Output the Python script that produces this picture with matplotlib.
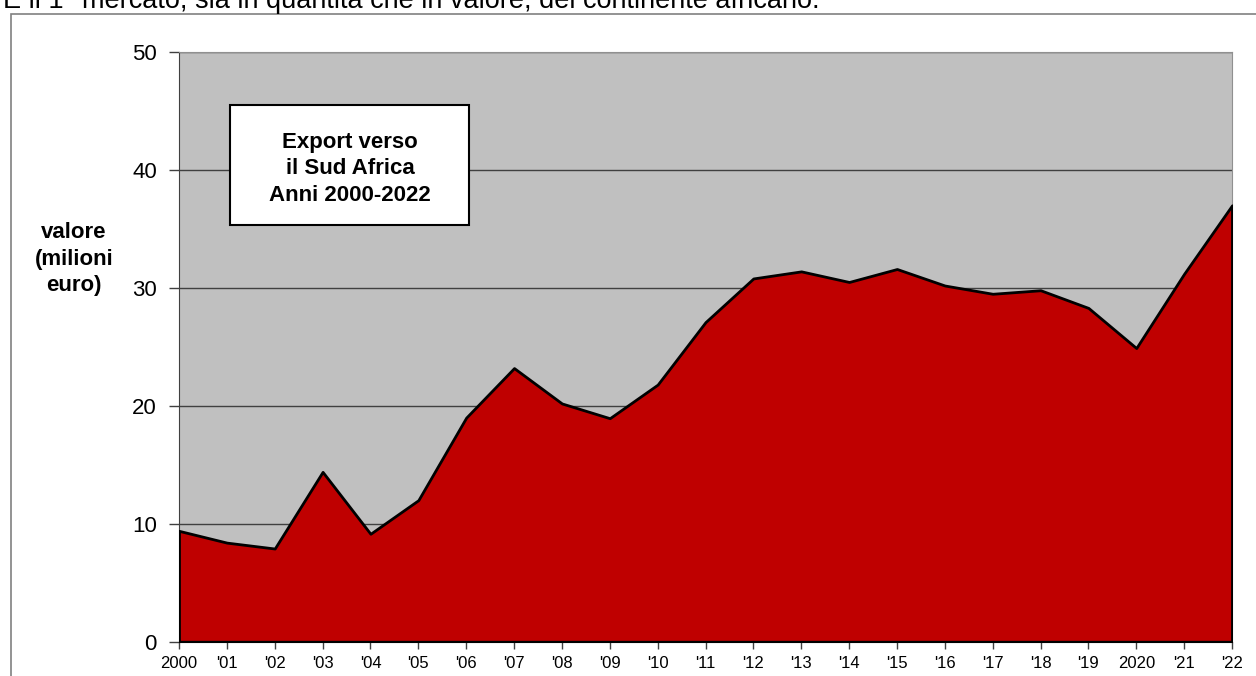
import numpy as np
import matplotlib.pyplot as plt
from matplotlib.patches import Rectangle

# Export verso il Sud Africa, valore in milioni di euro
anni = ["2000", "'01", "'02", "'03", "'04", "'05", "'06", "'07", "'08", "'09",
        "'10", "'11", "'12", "'13", "'14", "'15", "'16", "'17", "'18", "'19",
        "2020", "'21", "'22"]
valori = [9.4, 8.4, 7.9, 14.4, 9.15, 12.0, 19.0, 23.2, 20.2, 18.95,
          21.8, 27.1, 30.8, 31.4, 30.5, 31.6, 30.2, 29.5, 29.8, 28.3,
          24.9, 31.2, 37.0]

plt.rcParams['font.family'] = ['Liberation Sans', 'DejaVu Sans']

W, H = 1256, 676
fig = plt.figure(figsize=(W / 100, H / 100), dpi=100)

# cornice esterna (tagliata a destra e in basso)
fig.patches.append(Rectangle((11 / W, -0.1), 1.2, 1 - 14 / H + 0.1,
                             transform=fig.transFigure, fill=False,
                             edgecolor='#808080', lw=1.2))

# riga di testo tagliata in alto (come nella pagina originale)
fig.text(3 / W, 1 + 1 / H,
         "È il 1° mercato, sia in quantità che in valore, del continente africano.",
         fontsize=19.5, ha='left', va='center')

ax = fig.add_axes([179 / W, 1 - 641.7 / H, (1232 - 179) / W, (641.7 - 52) / H])
x = np.arange(len(anni))
ax.set_facecolor('#C0C0C0')
ax.fill_between(x, valori, 0, facecolor='#BF0000', edgecolor='black',
                lw=2, zorder=3)

ax.set_xlim(0, len(anni) - 1)
ax.set_ylim(0, 50)
ax.set_yticks(range(0, 51, 10))
ax.set_xticks(x)
ax.set_xticklabels(anni)
ax.tick_params(axis='y', labelsize=16, length=7, width=1, color='#404040', pad=9)
ax.tick_params(axis='x', labelsize=12, length=5, width=1, color='#404040', pad=5)
ax.yaxis.grid(True, color='#404040', lw=1)
ax.set_axisbelow(True)

for s in ['top', 'right']:
    ax.spines[s].set_color('#909090')
ax.spines['left'].set_color('#404040')
ax.spines['bottom'].set_color('black')

fig.text(74 / W, 1 - 259 / H, "valore\n(milioni\neuro)", fontsize=16,
         fontweight='bold', ha='center', va='center', linespacing=1.35)

# riquadro con il titolo
fig.patches.append(Rectangle((230 / W, 1 - 225 / H), (469 - 230) / W, 120 / H,
                             transform=fig.transFigure, facecolor='white',
                             edgecolor='black', lw=1.5, zorder=5))
fig.text(350 / W, 1 - 169 / H, "Export verso\nil Sud Africa\nAnni 2000-2022",
         fontsize=16, fontweight='bold', ha='center', va='center',
         linespacing=1.32, zorder=6)

fig.savefig('out.png', dpi=100)
